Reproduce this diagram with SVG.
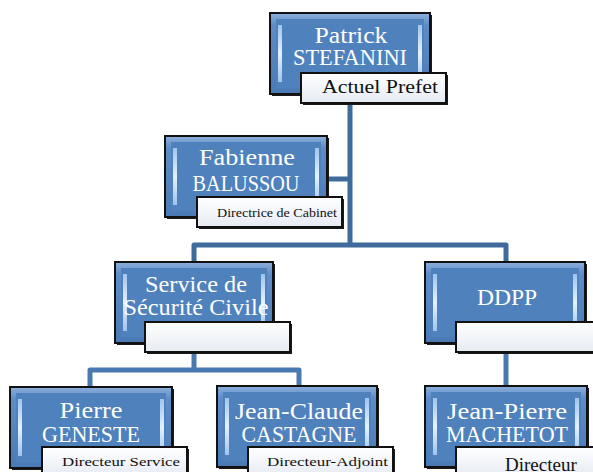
<svg xmlns="http://www.w3.org/2000/svg" width="593" height="472" viewBox="0 0 593 472" font-family="'Liberation Serif', 'DejaVu Serif', 'Times New Roman', serif">
<defs>
<linearGradient id="outer" x1="0" y1="0" x2="0" y2="1">
<stop offset="0" stop-color="#8DB0DC"/>
<stop offset="0.15" stop-color="#5E8CC6"/>
<stop offset="1" stop-color="#4A7AB5"/>
</linearGradient>
<linearGradient id="stripe" x1="0" y1="0" x2="0" y2="1">
<stop offset="0" stop-color="#9FC4EE"/>
<stop offset="0.5" stop-color="#E4F1FF"/>
<stop offset="1" stop-color="#9FC4EE"/>
</linearGradient>
<linearGradient id="lab" x1="0" y1="0" x2="0" y2="1">
<stop offset="0" stop-color="#FFFFFF"/>
<stop offset="1" stop-color="#E6EBF3"/>
</linearGradient>
</defs>
<style>
.sh{fill:#1a1a1a}
.box{fill:url(#outer);stroke:#111;stroke-width:2}
.in{fill:#4F81BD}
.st{fill:url(#stripe)}
.lb{fill:url(#lab);stroke:#111;stroke-width:2}
.t{font-size:23px;fill:#fff;text-anchor:middle}
.s{fill:#111}
.c1{fill:none;stroke:#3F6B9C;stroke-width:5;stroke-linejoin:round}
.c2{fill:none;stroke:#4A79B2;stroke-width:5;stroke-linejoin:round}
</style>
<g id="connectors">
<path class="c1" d="M350,94 V245"/>
<path class="c1" d="M327,179 H350"/>
<path class="c1" d="M194,262 V245 H506 V262"/>
<path class="c2" d="M194,352 V370"/>
<path class="c2" d="M90,387 V370 H299 V386"/>
<path class="c2" d="M506,352 V386"/>
</g>
<g id="patrick">
<rect class="sh" x="272" y="15" width="160" height="81"/>
<rect class="box" x="270" y="13" width="160" height="81"/>
<rect class="in" x="276" y="19" width="148" height="69"/>
<rect class="st" x="278" y="25" width="4" height="57"/>
<rect class="st" x="418" y="25" width="4" height="57"/>
<text class="t" x="351" y="43" textLength="73" lengthAdjust="spacingAndGlyphs">Patrick</text>
<text class="t" x="350" y="65" textLength="114" lengthAdjust="spacingAndGlyphs">STEFANINI</text>
<rect class="sh" x="303" y="75" width="145" height="30"/>
<rect class="lb" x="301" y="73" width="145" height="30"/>
<text class="s" x="322" y="93" font-size="19" textLength="116" lengthAdjust="spacingAndGlyphs">Actuel Prefet</text>
</g>
<g id="fabienne">
<rect class="sh" x="167" y="138" width="162" height="81"/>
<rect class="box" x="165" y="136" width="162" height="81"/>
<rect class="in" x="171" y="142" width="150" height="69"/>
<rect class="st" x="173" y="148" width="4" height="57"/>
<rect class="st" x="315" y="148" width="4" height="57"/>
<text class="t" x="247" y="165" textLength="96" lengthAdjust="spacingAndGlyphs">Fabienne</text>
<text class="t" x="246" y="191" textLength="107" lengthAdjust="spacingAndGlyphs">BALUSSOU</text>
<rect class="sh" x="199" y="199" width="145" height="30"/>
<rect class="lb" x="197" y="197" width="145" height="30"/>
<text class="s" x="217" y="217" font-size="12" textLength="120" lengthAdjust="spacingAndGlyphs">Directrice de Cabinet</text>
</g>
<g id="service">
<rect class="sh" x="117" y="264" width="158" height="81"/>
<rect class="box" x="115" y="262" width="158" height="81"/>
<rect class="in" x="121" y="268" width="146" height="69"/>
<rect class="st" x="123" y="274" width="4" height="57"/>
<rect class="st" x="261" y="274" width="4" height="57"/>
<text class="t" x="196" y="292" textLength="102" lengthAdjust="spacingAndGlyphs">Service de</text>
<text class="t" x="196" y="315" textLength="145" lengthAdjust="spacingAndGlyphs">Sécurité Civile</text>
<rect class="sh" x="147" y="324" width="145" height="30"/>
<rect class="lb" x="145" y="322" width="145" height="30"/>
</g>
<g id="ddpp">
<rect class="sh" x="427" y="264" width="160" height="81"/>
<rect class="box" x="425" y="262" width="160" height="81"/>
<rect class="in" x="431" y="268" width="148" height="69"/>
<rect class="st" x="433" y="274" width="4" height="57"/>
<rect class="st" x="573" y="274" width="4" height="57"/>
<text class="t" x="507" y="305" textLength="60" lengthAdjust="spacingAndGlyphs">DDPP</text>
<rect class="sh" x="458" y="324" width="145" height="30"/>
<rect class="lb" x="456" y="322" width="145" height="30"/>
</g>
<g id="pierre">
<rect class="sh" x="12" y="389" width="162" height="81"/>
<rect class="box" x="10" y="387" width="162" height="81"/>
<rect class="in" x="16" y="393" width="150" height="69"/>
<rect class="st" x="18" y="399" width="4" height="57"/>
<rect class="st" x="160" y="399" width="4" height="57"/>
<text class="t" x="91" y="418" textLength="63" lengthAdjust="spacingAndGlyphs">Pierre</text>
<text class="t" x="91" y="442" textLength="98" lengthAdjust="spacingAndGlyphs">GENESTE</text>
<rect class="sh" x="44" y="449" width="145" height="30"/>
<rect class="lb" x="42" y="447" width="145" height="30"/>
<text class="s" x="62" y="466" font-size="13" textLength="118" lengthAdjust="spacingAndGlyphs">Directeur Service</text>
</g>
<g id="castagne">
<rect class="sh" x="219" y="388" width="160" height="81"/>
<rect class="box" x="217" y="386" width="160" height="81"/>
<rect class="in" x="223" y="392" width="148" height="69"/>
<rect class="st" x="225" y="398" width="4" height="57"/>
<rect class="st" x="365" y="398" width="4" height="57"/>
<text class="t" x="299" y="419" textLength="128" lengthAdjust="spacingAndGlyphs">Jean-Claude</text>
<text class="t" x="299" y="442" textLength="115" lengthAdjust="spacingAndGlyphs">CASTAGNE</text>
<rect class="sh" x="250" y="449" width="145" height="30"/>
<rect class="lb" x="248" y="447" width="145" height="30"/>
<text class="s" x="267" y="466" font-size="13" textLength="121" lengthAdjust="spacingAndGlyphs">Directeur-Adjoint</text>
</g>
<g id="machetot">
<rect class="sh" x="427" y="388" width="162" height="81"/>
<rect class="box" x="425" y="386" width="162" height="81"/>
<rect class="in" x="431" y="392" width="150" height="69"/>
<rect class="st" x="433" y="398" width="4" height="57"/>
<rect class="st" x="575" y="398" width="4" height="57"/>
<text class="t" x="507" y="419" textLength="120" lengthAdjust="spacingAndGlyphs">Jean-Pierre</text>
<text class="t" x="507" y="442" textLength="122" lengthAdjust="spacingAndGlyphs">MACHETOT</text>
<rect class="sh" x="458" y="449" width="145" height="30"/>
<rect class="lb" x="456" y="447" width="145" height="30"/>
<text class="s" x="505" y="471" font-size="19">Directeur</text>
</g>
</svg>
